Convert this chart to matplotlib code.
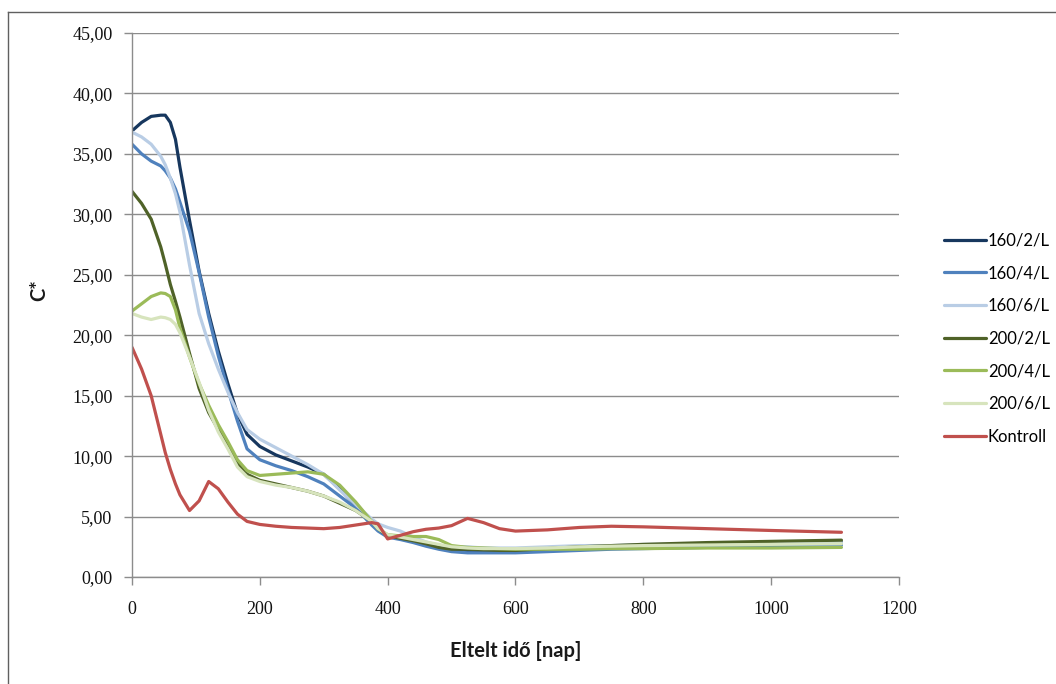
import matplotlib
matplotlib.use("Agg")
import matplotlib.pyplot as plt
from matplotlib.lines import Line2D
from matplotlib.ticker import FuncFormatter, MultipleLocator

days = [0, 15, 30, 45, 52, 60, 68, 75, 90, 105, 120, 135, 150, 165, 180, 200, 225,
        250, 275, 300, 325, 350, 375, 385, 400, 420, 440, 460, 480, 500, 525, 550,
        575, 600, 650, 700, 750, 800, 900, 1000, 1110]

s160_2 = [36.9, 37.6, 38.1, 38.2, 38.2, 37.6, 36.2, 33.9, 29.5, 25.3, 21.8, 18.7,
          16.0, 13.5, 11.8, 10.8, 10.1, 9.6, 9.1, 8.5, 7.3, 5.9, 4.7, 4.0, 3.4,
          3.2, 3.0, 2.75, 2.45, 2.2, 2.2, 2.2, 2.2, 2.2, 2.3, 2.4, 2.5, 2.6, 2.7,
          2.8, 2.9]
s160_4 = [35.8, 35.0, 34.4, 34.0, 33.6, 33.0, 32.1, 31.0, 28.6, 25.2, 21.5, 18.3,
          15.5, 12.9, 10.6, 9.7, 9.2, 8.8, 8.3, 7.7, 6.7, 5.7, 4.3, 3.8, 3.3, 3.1,
          2.85, 2.55, 2.3, 2.1, 2.0, 2.0, 2.0, 2.0, 2.1, 2.2, 2.3, 2.35, 2.45,
          2.55, 2.65]
s160_6 = [36.8, 36.4, 35.8, 34.8, 34.1, 33.0, 31.7, 30.2, 25.8, 21.8, 19.3, 17.2,
          15.3, 13.6, 12.2, 11.4, 10.7, 10.0, 9.3, 8.5, 7.2, 6.0, 4.8, 4.4, 4.1,
          3.8, 3.3, 2.9, 2.6, 2.5, 2.5, 2.4, 2.4, 2.4, 2.5, 2.6, 2.6, 2.7, 2.75,
          2.8, 2.85]
s200_2 = [31.9, 30.9, 29.6, 27.3, 25.9, 24.2, 22.8, 21.5, 18.5, 15.6, 13.6, 12.2,
          10.8, 9.4, 8.5, 8.0, 7.7, 7.4, 7.1, 6.7, 6.1, 5.5, 4.6, 4.0, 3.4, 3.2,
          3.0, 2.75, 2.45, 2.3, 2.3, 2.25, 2.2, 2.2, 2.35, 2.5, 2.6, 2.7, 2.85,
          2.95, 3.05]
s200_4 = [22.0, 22.6, 23.2, 23.5, 23.45, 23.2, 22.1, 20.6, 18.2, 16.0, 14.2, 12.6,
          11.2, 9.7, 8.8, 8.4, 8.5, 8.6, 8.7, 8.5, 7.6, 6.2, 4.6, 4.0, 3.5, 3.4,
          3.35, 3.35, 3.1, 2.6, 2.45, 2.4, 2.35, 2.3, 2.3, 2.3, 2.35, 2.35, 2.4,
          2.4, 2.45]
s200_6 = [21.8, 21.5, 21.3, 21.5, 21.45, 21.3, 20.9, 20.2, 18.2, 16.1, 13.8, 12.0,
          10.6, 9.1, 8.3, 7.9, 7.6, 7.4, 7.1, 6.7, 6.2, 5.5, 4.6, 4.0, 3.5, 3.3,
          3.1, 2.9, 2.7, 2.5, 2.4, 2.35, 2.35, 2.35, 2.4, 2.5, 2.55, 2.6, 2.65,
          2.7, 2.75]
kontroll = [19.0, 17.2, 15.0, 11.8, 10.3, 8.9, 7.7, 6.8, 5.5, 6.3, 7.9, 7.3, 6.2,
            5.2, 4.6, 4.35, 4.2, 4.1, 4.05, 4.0, 4.1, 4.3, 4.5, 4.4, 3.15, 3.45,
            3.75, 3.95, 4.05, 4.25, 4.85, 4.5, 4.0, 3.8, 3.9, 4.1, 4.2, 4.15, 4.0,
            3.85, 3.7]

labels = ["160/2/L", "160/4/L", "160/6/L", "200/2/L", "200/4/L", "200/6/L", "Kontroll"]
series = [s160_2, s160_4, s160_6, s200_2, s200_4, s200_6, kontroll]
colors = ["#17375E", "#4F81BD", "#B9CDE5", "#4F6228", "#9BBB59", "#D7E4BD", "#C0504D"]

fig = plt.figure(figsize=(10.56, 6.84), dpi=100)
ax = fig.add_axes([0.125, 0.1564, 0.7263, 0.7954])

for ys, c, lab in zip(series, colors, labels):
    ax.plot(days, ys, color=c, lw=2.3, label=lab, solid_capstyle="round",
            solid_joinstyle="round")

ax.set_xlim(0, 1200)
ax.set_ylim(0, 45)
ax.xaxis.set_major_locator(MultipleLocator(200))
ax.yaxis.set_major_locator(MultipleLocator(5))
ax.yaxis.set_major_formatter(FuncFormatter(lambda v, p: f"{v:.2f}".replace(".", ",")))
ax.xaxis.set_major_formatter(FuncFormatter(lambda v, p: f"{v:.0f}"))

ax.grid(axis="y", color="#8C8C8C", lw=1.0)
ax.set_axisbelow(True)
for side in ("top", "right"):
    ax.spines[side].set_visible(False)
for side in ("left", "bottom"):
    ax.spines[side].set_color("#8C8C8C")
    ax.spines[side].set_linewidth(1.0)
ax.tick_params(axis="both", direction="out", length=6, color="#8C8C8C", width=1.0)
ax.tick_params(axis="y", pad=8)
ax.tick_params(axis="x", pad=11)
for t in ax.get_xticklabels() + ax.get_yticklabels():
    t.set_fontfamily("Liberation Serif")
    t.set_fontsize(13)
    t.set_color("#111111")

ax.set_xlabel("Eltelt idő [nap]", fontfamily="Lato", fontweight="bold",
              fontsize=14.5, color="#1A1A1A")
ax.xaxis.set_label_coords(0.5, -0.118)
ax.set_ylabel("C*", fontfamily="Lato", fontweight="bold", fontsize=14.5,
              color="#1A1A1A")
ax.yaxis.set_label_coords(-0.108, 0.528)

fig.legend(loc="center left", bbox_to_anchor=(0.888, 0.505), frameon=False,
           prop={"family": "Lato", "size": 12}, handlelength=2.5,
           handletextpad=0.1, labelspacing=1.0, borderaxespad=0)

# outer frame
fig.add_artist(Line2D([8 / 1056, 8 / 1056], [0, 1 - 12 / 684],
                      transform=fig.transFigure, color="#606060", lw=1.0))
fig.add_artist(Line2D([8 / 1056, 1], [1 - 12 / 684, 1 - 12 / 684],
                      transform=fig.transFigure, color="#606060", lw=1.0))

fig.savefig("out.png", dpi=100, facecolor="white")
